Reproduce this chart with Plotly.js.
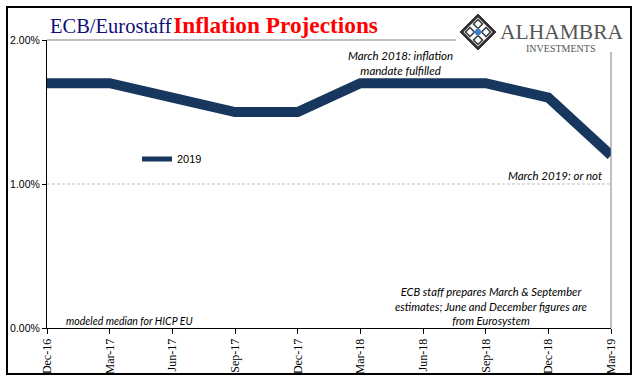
<!DOCTYPE html>
<html>
<head>
<meta charset="utf-8">
<script src="https://cdn.plot.ly/plotly-3.0.1.min.js"></script>
<style>
html,body{margin:0;padding:0;background:#fff;}
#chart{width:641px;height:381px;}
</style>
</head>
<body>
<div id="chart"></div>
<script>
// ---- data ----
var quarters = ["Dec-16","Mar-17","Jun-17","Sep-17","Dec-17","Mar-18","Jun-18","Sep-18","Dec-18","Mar-19"];
var projection2019 = [1.7, 1.7, 1.6, 1.5, 1.5, 1.7, 1.7, 1.7, 1.6, 1.2];
var yTickVals = [0, 1, 2];
var yTickText = ["0.00%", "1.00%", "2.00%"];
var seriesName = "2019";

// ---- layout helpers: paper == whole figure (margins 0), pixel -> paper ----
var L = 47, R = 611, T = 40, B = 328, W = 641, H = 381;
function px(x){ return x / W; }
function py(y){ return (H - y) / H; }

var navy = "#17375E";
var italicFont = {family: "Lato, 'Open Sans', sans-serif", size: 11.5, color: "#000"};

var xIdx = quarters.map(function(q, i){ return i; });

var trace = {
  x: xIdx,
  y: projection2019,
  type: "scatter",
  mode: "lines",
  name: seriesName,
  legendgroup: "s",
  line: {color: navy, width: 10},
  showlegend: false
};
// legend entry (thinner sample line, as in the reference legend)
var legendTrace = {
  x: [null], y: [null],
  type: "scatter", mode: "lines",
  name: seriesName, legendgroup: "s",
  line: {color: navy, width: 5},
  showlegend: true, hoverinfo: "skip"
};

// logo diamond shapes
var cx = 478, cy = 32, r = 18;
function diamond(cx, cy, r){
  return "M " + px(cx) + " " + py(cy - r) + " L " + px(cx + r) + " " + py(cy) +
         " L " + px(cx) + " " + py(cy + r) + " L " + px(cx - r) + " " + py(cy) + " Z";
}
var logoCol = "#333333";
var shapes = [
  // outer frame
  {type: "rect", xref: "paper", yref: "paper", x0: px(7), x1: px(631), y0: py(7), y1: py(374),
   line: {color: "#000000", width: 2}, fillcolor: "rgba(0,0,0,0)", layer: "above"},
  // top plot line (truncated by logo)
  {type: "line", xref: "paper", yref: "paper", x0: px(L), x1: px(456), y0: py(T), y1: py(T),
   line: {color: "#808080", width: 1}},
  // right plot line
  {type: "line", xref: "paper", yref: "paper", x0: px(R), x1: px(R), y0: py(52), y1: py(B),
   line: {color: "#808080", width: 1}},
  // 1.00% gridline
  {type: "line", xref: "x domain", yref: "y", x0: 0, x1: 1, y0: 1, y1: 1,
   line: {color: "#bfbfbf", width: 1, dash: "3px,2px"}, layer: "below"},
  // logo
  {type: "path", xref: "paper", yref: "paper", path: diamond(cx, cy, r),
   fillcolor: logoCol, line: {color: logoCol, width: 1}},
  {type: "path", xref: "paper", yref: "paper", path: diamond(cx, cy, r - 3.5),
   fillcolor: "#ffffff", line: {color: "#ffffff", width: 0}},
  {type: "path", xref: "paper", yref: "paper", path: diamond(cx, cy - 8, 4.5),
   fillcolor: "rgba(0,0,0,0)", line: {color: logoCol, width: 1.5}},
  {type: "path", xref: "paper", yref: "paper", path: diamond(cx, cy + 8, 4.5),
   fillcolor: "rgba(0,0,0,0)", line: {color: logoCol, width: 1.5}},
  {type: "path", xref: "paper", yref: "paper", path: diamond(cx - 8, cy, 4.5),
   fillcolor: "rgba(0,0,0,0)", line: {color: logoCol, width: 1.5}},
  {type: "path", xref: "paper", yref: "paper", path: diamond(cx + 8, cy, 4.5),
   fillcolor: "rgba(0,0,0,0)", line: {color: logoCol, width: 1.5}},
  {type: "path", xref: "paper", yref: "paper", path: diamond(cx, cy, 4.5),
   fillcolor: "#3f7fc4", line: {color: "#3f7fc4", width: 0}}
];

var annotations = [
  {xref: "paper", yref: "paper", x: px(48), y: py(40), xanchor: "left", yanchor: "bottom", showarrow: false,
   text: "<span style='color:#0f0f7a;font-size:20.5px'>ECB/Eurostaff</span><span style='font-size:7px'> </span><b style='color:#ff0000'>Inflation Projections</b>",
   font: {family: "'Liberation Serif', 'Times New Roman', serif", size: 23.3, color: "#0f0f7a"}},
  {xref: "paper", yref: "paper", x: px(498), y: py(46), xanchor: "left", yanchor: "bottom", showarrow: false,
   text: "ALHAMBRA", font: {family: "'Liberation Serif', serif", size: 21.5, color: "#555"}},
  {xref: "paper", yref: "paper", x: px(560), y: py(48), xanchor: "center", yanchor: "middle", showarrow: false,
   text: "INVESTMENTS", font: {family: "'Liberation Serif', serif", size: 10, color: "#555"}},
  {xref: "paper", yref: "paper", x: px(400), y: py(63), xanchor: "center", yanchor: "middle", showarrow: false,
   text: "<i>March 2018: inflation<br>mandate fulfilled</i>", font: italicFont},
  {xref: "paper", yref: "paper", x: px(604), y: py(175), xanchor: "right", yanchor: "middle", showarrow: false,
   text: "<i>March 2019: or not</i>", font: italicFont},
  {xref: "paper", yref: "paper", x: px(491), y: py(306), xanchor: "center", yanchor: "middle", showarrow: false,
   text: "<i>ECB staff prepares March &amp; September<br>estimates; June and December figures are<br>from Eurosystem</i>",
   font: {family: "Lato, 'Open Sans', sans-serif", size: 11.2, color: "#000"}},
  {xref: "paper", yref: "paper", x: px(64), y: py(321), xanchor: "left", yanchor: "middle", showarrow: false,
   text: "<i>modeled median for HICP EU</i>", font: {family: "Lato, 'Open Sans', sans-serif", size: 10.5, color: "#000"}}
];

var layout = {
  width: W, height: H,
  margin: {l: 0, r: 0, t: 0, b: 0, pad: 0},
  paper_bgcolor: "#fff", plot_bgcolor: "#fff",
  showlegend: true,
  legend: {x: px(137), y: py(159), xanchor: "left", yanchor: "middle", bgcolor: "rgba(0,0,0,0)",
           font: {family: "'Liberation Sans', Arial, sans-serif", size: 11, color: "#000"}},
  xaxis: {
    domain: [px(L), px(R)],
    automargin: false,
    range: [0, quarters.length - 1],
    tickvals: xIdx,
    ticktext: quarters,
    tickangle: -90,
    ticks: "outside", ticklen: 5, tickcolor: "#000", tickwidth: 1,
    showline: true, linecolor: "#000", linewidth: 1,
    showgrid: false, zeroline: false, fixedrange: true,
    tickfont: {family: "'Liberation Serif', 'Times New Roman', serif", size: 12, color: "#000"}
  },
  yaxis: {
    domain: [py(B), py(T)],
    automargin: false,
    range: [0, 2],
    tickvals: yTickVals, ticktext: yTickText,
    ticks: "outside", ticklen: 4, tickcolor: "#000", tickwidth: 1,
    showline: true, linecolor: "#000", linewidth: 1,
    showgrid: false, zeroline: false, fixedrange: true,
    tickfont: {family: "'Liberation Sans', Arial, sans-serif", size: 10.5, color: "#000"}
  },
  shapes: shapes,
  annotations: annotations
};

Plotly.newPlot("chart", [trace, legendTrace], layout, {displayModeBar: false, staticPlot: true});
</script>
</body>
</html>
